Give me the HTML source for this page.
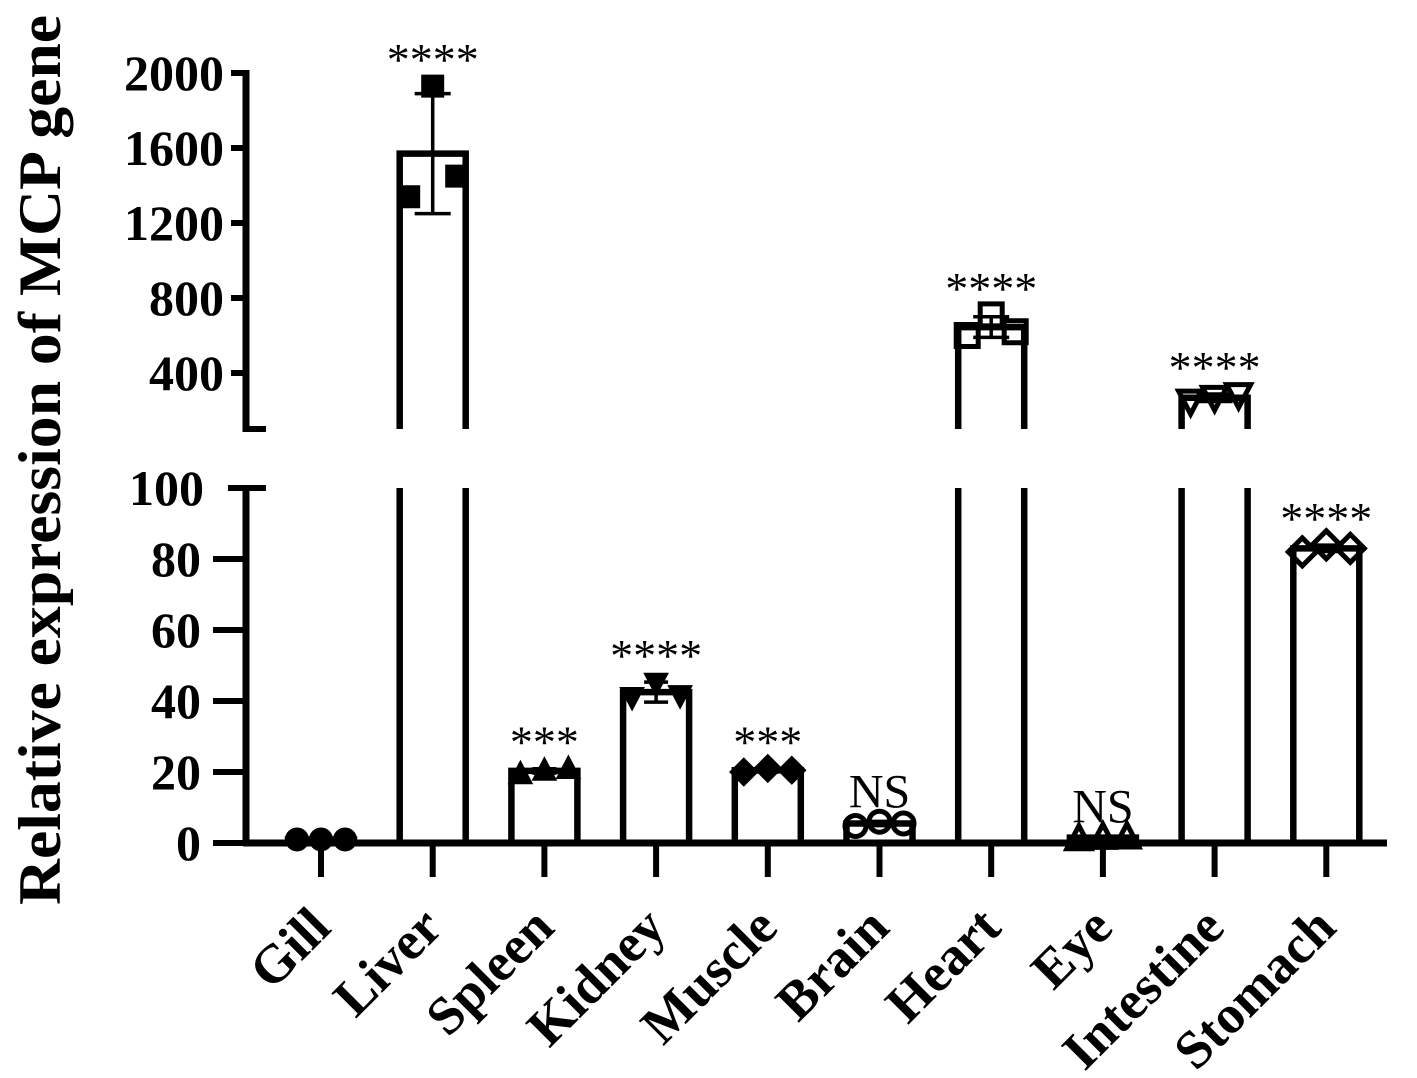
<!DOCTYPE html>
<html><head><meta charset="utf-8"><style>
html,body{margin:0;padding:0;background:#fff;}
svg{display:block;}
text{font-family:"Liberation Serif",serif;fill:#000;}
</style></head><body>
<svg id="chart" width="1417" height="1078" viewBox="0 0 1417 1078">
<g id="axes"></g>
<g id="bars"></g>
<g id="points"></g>
<text transform="translate(60,460) rotate(-90)" text-anchor="middle" font-size="60" font-weight="bold" textLength="890" lengthAdjust="spacingAndGlyphs">Relative expression of MCP gene</text>
</svg>
<script>
const categories = ["Gill","Liver","Spleen","Kidney","Muscle","Brain","Heart","Eye","Intestine","Stomach"];
const means = [1, 1570, 20.3, 42.5, 20.5, 5.5, 645, 1.5, 268, 83];
const sds = [0.3, 320, 0.6, 2.8, 0.5, 0.6, 55, 0.4, 20, 0.9];
const rep1 = [1, 1340, 19.5, 41, 20, 4.8, 600, 1.2, 250, 82];
const rep2 = [1, 1930, 20.5, 45, 21, 6, 710, 1.6, 270, 84];
const rep3 = [1, 1450, 21, 41.5, 20.5, 5.5, 620, 1.7, 285, 83];
const signif = ["", "****", "***", "****", "***", "NS", "****", "NS", "****", "****"];
const markers = ["circle","square","tri-up","tri-down","diamond","circle","square","tri-up","tri-down","diamond"];
const filled = [true,true,true,true,true,false,false,false,false,false];
const lowerTicks = [0,20,40,60,80,100];
const upperTicks = [400,800,1200,1600,2000];

const NS="http://www.w3.org/2000/svg";
const X0=246, XEND=1387, STEP=111.7, FIRST=321;
const xPos=i=>FIRST+i*STEP;
const yLow=v=>843-v*3.55;
const yUp=v=>73+(2000-v)*0.1875;
const UP_MIN=100, BREAK_TOP=488, BREAK_BOT=429;
function yVal(v){ return v>100 ? yUp(v) : yLow(v); }
function mk(tag,attrs,parent){const e=document.createElementNS(NS,tag);for(const k in attrs)e.setAttribute(k,attrs[k]);parent.appendChild(e);return e;}
const axes=document.getElementById('axes'), bars=document.getElementById('bars'), pts=document.getElementById('points');

let l=mk('line',{x1:X0,y1:yUp(2000)-3,x2:X0,y2:BREAK_BOT+3,stroke:'#000','stroke-width':7},axes);


l=mk('line',{x1:X0-3,y1:BREAK_BOT,x2:266,y2:BREAK_BOT,stroke:'#000','stroke-width':6},axes);


upperTicks.forEach(t=>{
  const y=yUp(t);
  const tk=mk('line',{x1:231,y1:y,x2:X0,y2:y,stroke:'#000','stroke-width':6},axes);
  
  
  const tx=mk('text',{x:224,y:y+17,'text-anchor':'end','font-size':50,'font-weight':'bold'},axes);
  tx.textContent=t;
  
  
});
l=mk('line',{x1:X0,y1:BREAK_TOP-3,x2:X0,y2:846,stroke:'#000','stroke-width':7},axes);


lowerTicks.forEach(t=>{
  const y=yLow(t);
  const tk=mk('line',{x1:t===100?228:213,y1:y,x2:t===100?266:X0,y2:y,stroke:'#000','stroke-width':6},axes);
  
  
  const tx=mk('text',{x:t===100?204:201,y:y+17,'text-anchor':'end','font-size':50,'font-weight':'bold'},axes);
  tx.textContent=t;
  
  
});
l=mk('line',{x1:X0-3,y1:843,x2:XEND,y2:843,stroke:'#000','stroke-width':7},axes);


categories.forEach((c,i)=>{
  const x=xPos(i);
  const tk=mk('line',{x1:x,y1:843,x2:x,y2:877,stroke:'#000','stroke-width':6},axes);
  
  
  const tx=mk('text',{transform:`translate(${x+12},${930}) rotate(-45)`,'text-anchor':'end','font-size':54,'font-weight':'bold'},axes);
  tx.textContent=c;
  
  
});

const HW=33;
categories.forEach((c,i)=>{
  const x=xPos(i), m=means[i];
  const g=mk('g',{},bars);
  
  
  const st={stroke:'#000','stroke-width':6.5,fill:'none'};
  if(m>UP_MIN){
    const yt=yUp(m);
    mk('path',Object.assign({d:`M${x-HW},${BREAK_BOT} V${yt} H${x+HW} V${BREAK_BOT}`},st),g);
    mk('path',Object.assign({d:`M${x-HW},843 V${BREAK_TOP} M${x+HW},843 V${BREAK_TOP}`},st),g);
  } else {
    const yt=yLow(m);
    mk('path',Object.assign({d:`M${x-HW},843 V${yt} H${x+HW} V843`},st),g);
  }
  const yh=yVal(m+sds[i]), yl=yVal(m-sds[i]);
  const cw=m>UP_MIN?18:12;
  mk('path',{d:`M${x},${yl} V${yh} M${x-cw},${yh} H${x+cw} M${x-cw},${yl} H${x+cw}`,stroke:'#000','stroke-width':3.5,fill:'none'},g);
  if(signif[i]){
    const top=Math.min(yh, yVal(Math.max(rep1[i],rep2[i],rep3[i])));
    const isNS=signif[i]==='NS';
    const tx=mk('text',{x:x,y:isNS?top-14:top-11,'text-anchor':'middle','font-size':isNS?48:46},g);
    tx.textContent=signif[i];
    
    
  }
});

function marker(type,cx,cy,fill,parent){
  const s=11;
  const a={stroke:'#000','stroke-width':fill?1:5,fill:fill?'#000':'none'};
  let d;
  if(type==='circle') return mk('circle',Object.assign({cx,cy,r:fill?11.5:10.5},a),parent);
  if(type==='square') return mk('rect',Object.assign({x:cx-s,y:cy-s,width:2*s,height:2*s},a),parent);
  if(type==='tri-up') d=`M${cx},${cy-s-2} L${cx+s+1},${cy+s-1} L${cx-s-1},${cy+s-1}Z`;
  if(type==='tri-down') d=`M${cx},${cy+s+2} L${cx+s+1},${cy-s+1} L${cx-s-1},${cy-s+1}Z`;
  if(type==='diamond') d=`M${cx},${cy-s-3} L${cx+s+3},${cy} L${cx},${cy+s+3} L${cx-s-3},${cy}Z`;
  return mk('path',Object.assign({d},a),parent);
}
[rep1,rep2,rep3].forEach((rep,k)=>{
  categories.forEach((c,i)=>{
    const x=xPos(i)+(k-1)*24;
    const el=marker(markers[i],x,yVal(rep[i]),filled[i],pts);
    
    
  });
});
</script>
</body></html>
